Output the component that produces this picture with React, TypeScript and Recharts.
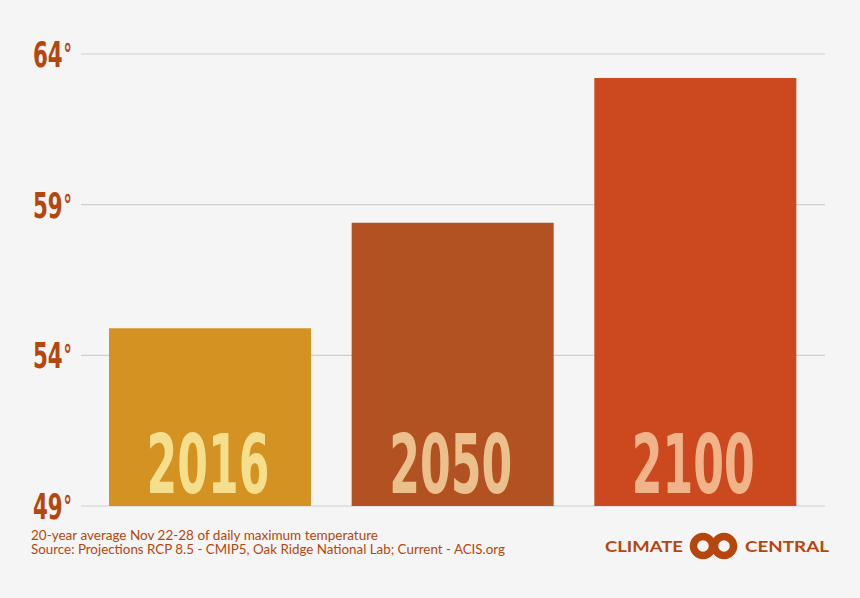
import React from 'react'
import { BarChart, Bar, XAxis, YAxis, CartesianGrid, Cell, LabelList } from 'recharts'

const years = ['2016', '2050', '2100']
const temps = [54.9, 58.4, 63.2]
const yTicks = [49, 54, 59, 64]

const barColors = ['#D39221', '#B25222', '#CC481E']
const labelColors = ['#F5DE8C', '#ECC08C', '#F1B48A']
const accent = '#B5470E'

const data = years.map((year, i) => ({ year, temp: temps[i] }))

const condensed = "'DejaVu Sans Condensed', 'Liberation Sans Narrow', sans-serif"

const YTick = (props: any) => {
  const { y, payload } = props
  return (
    <g transform={`translate(33, ${y + 13}) scale(0.66, 1)`}>
      <text x={0} y={0} fill={accent} fontFamily={condensed} fontWeight={700} fontSize={36}>
        {payload.value}
        <tspan fontSize={28} dx={1} dy={-3}>°</tspan>
      </text>
    </g>
  )
}

const YearLabel = (props: any) => {
  const { x, y, width, height, index } = props
  return (
    <text
      x={x + width / 2 - 2}
      y={y + height - 13}
      fill={labelColors[index]}
      fontFamily={condensed}
      fontWeight={700}
      fontSize={82}
      textAnchor="middle"
      textLength={123}
      lengthAdjust="spacingAndGlyphs"
    >
      {years[index]}
    </text>
  )
}

export default function App() {
  return (
    <div style={{ position: 'absolute', left: 0, top: 0, width: 860, height: 598, background: '#F5F5F5' }}>
      <BarChart
        width={860}
        height={598}
        data={data}
        margin={{ top: 54, right: 35, bottom: 92, left: 0 }}
      >
        <CartesianGrid horizontal vertical={false} stroke="#CFCFCF" strokeWidth={1.2} />
        <XAxis dataKey="year" hide padding={{ left: 8, right: 8 }} />
        <YAxis
          domain={[49, 64]}
          ticks={yTicks}
          width={81}
          axisLine={false}
          tickLine={false}
          tick={<YTick />}
          allowDataOverflow
        />
        <Bar dataKey="temp" barSize={202} isAnimationActive={false}>
          {data.map((d, i) => (
            <Cell key={d.year} fill={barColors[i]} />
          ))}
          <LabelList dataKey="year" content={<YearLabel />} />
        </Bar>
      </BarChart>
      <svg width={860} height={598} style={{ position: 'absolute', left: 0, top: 0, pointerEvents: 'none' }}>
        <g fill={accent} fontFamily="Lato, 'Open Sans', sans-serif" fontSize={12.5}>
          <text x={31} y={540} textLength={347} lengthAdjust="spacingAndGlyphs">
            20-year average Nov 22-28 of daily maximum temperature
          </text>
          <text x={31} y={553.5} textLength={474} lengthAdjust="spacingAndGlyphs">
            Source: Projections RCP 8.5 - CMIP5, Oak Ridge National Lab; Current - ACIS.org
          </text>
        </g>
        <g fill={accent} fontFamily="Lato, 'Open Sans', sans-serif" fontWeight={700} fontSize={16}>
          <text x={605} y={552} textLength={78} lengthAdjust="spacingAndGlyphs">CLIMATE</text>
          <text x={745} y={552} textLength={84} lengthAdjust="spacingAndGlyphs">CENTRAL</text>
        </g>
        <circle cx={703} cy={546} r={9.5} fill="none" stroke={accent} strokeWidth={7.5} />
        <circle cx={724} cy={546} r={9.5} fill="none" stroke={accent} strokeWidth={7.5} />
      </svg>
    </div>
  )
}
